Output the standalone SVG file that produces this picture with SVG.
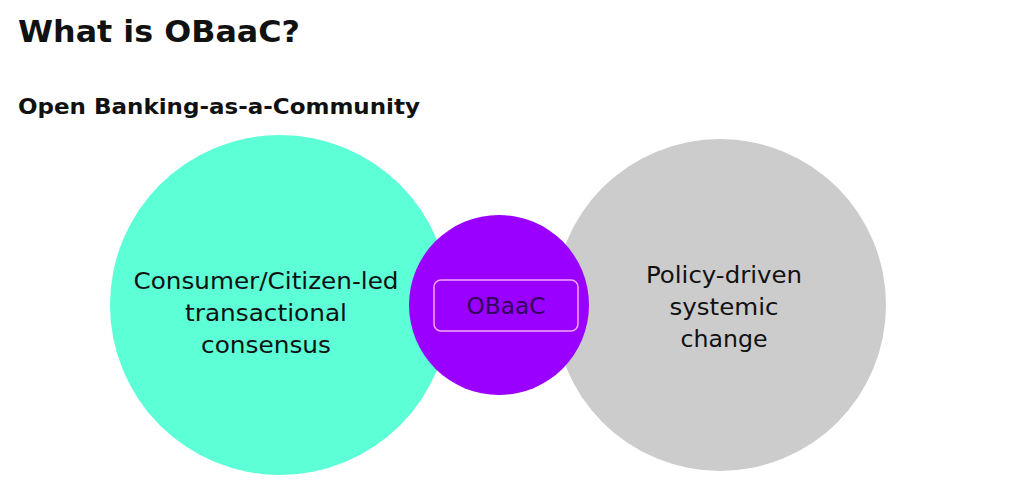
<svg xmlns="http://www.w3.org/2000/svg" width="1024" height="491" viewBox="0 0 1024 491">
<style>
.t{font-family:"DejaVu Sans","Liberation Sans",sans-serif;fill:#111}
.c{font-size:23px;text-anchor:middle}
</style>
<rect width="1024" height="491" fill="#fff"/>
<text class="t" x="18" y="42" font-size="31" font-weight="bold" textLength="282" lengthAdjust="spacingAndGlyphs">What is OBaaC?</text>
<text class="t" x="18" y="114" font-size="21" font-weight="bold" textLength="402" lengthAdjust="spacingAndGlyphs">Open Banking-as-a-Community</text>
<g id="consumer"><circle cx="280" cy="305" r="170" fill="#5cffd6"/>
<text class="t c" x="266" y="289" textLength="265" lengthAdjust="spacingAndGlyphs">Consumer/Citizen-led</text>
<text class="t c" x="266" y="321" textLength="162" lengthAdjust="spacingAndGlyphs">transactional</text>
<text class="t c" x="266" y="353" textLength="130" lengthAdjust="spacingAndGlyphs">consensus</text></g>
<g id="policy"><circle cx="720" cy="305" r="166" fill="#cccccc"/>
<text class="t c" x="724" y="283" textLength="156" lengthAdjust="spacingAndGlyphs">Policy-driven</text>
<text class="t c" x="724" y="315" textLength="109" lengthAdjust="spacingAndGlyphs">systemic</text>
<text class="t c" x="724" y="347" textLength="87" lengthAdjust="spacingAndGlyphs">change</text></g>
<g id="obaac"><circle cx="499" cy="305" r="90" fill="#9900ff"/>
<rect x="434" y="280" width="144" height="51" rx="7" fill="none" stroke="#f5a6ff" stroke-width="1.5"/>
<text class="t c" x="506" y="314" textLength="79" lengthAdjust="spacingAndGlyphs" style="fill:#33005a">OBaaC</text></g>
<g id="connectors"/>
</svg>
